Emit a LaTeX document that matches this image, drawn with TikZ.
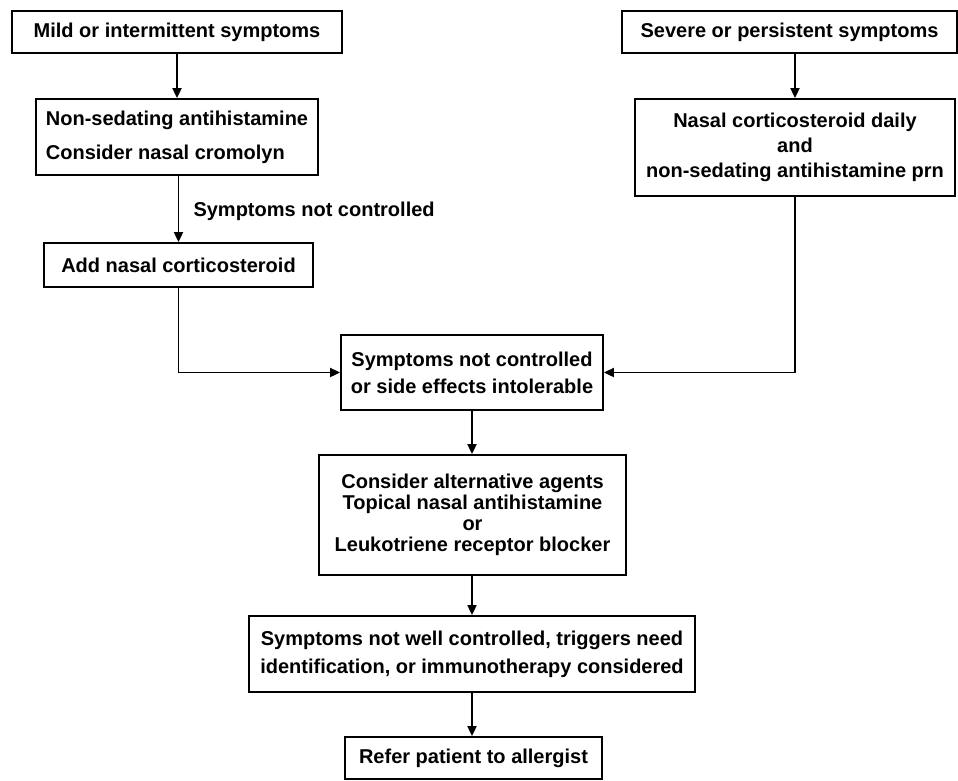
\documentclass[tikz,border=0pt]{standalone}
\usepackage{fontspec}
\setmainfont{Liberation Sans}
\usetikzlibrary{arrows.meta}
\begin{document}
\begin{tikzpicture}[x=1pt,y=-1pt,
  box/.style={draw,line width=1.8pt,inner sep=0pt,align=center,
    font=\bfseries\fontsize{20}{25}\selectfont},
  flow/.style={line width=1.8pt,-{Triangle[length=10pt,width=9pt]}}]
\useasboundingbox (0,0) rectangle (958,780);

% left branch
\node[box,minimum width=330pt,minimum height=42pt] (mild) at (177,32) {Mild or intermittent symptoms};
\node[box,align=left,minimum width=282pt,minimum height=76pt,
  font=\bfseries\fontsize{20}{34}\selectfont] (nonsed) at (177,137)
  {Non-sedating antihistamine\\Consider nasal cromolyn};
\node[box,minimum width=269pt,minimum height=44pt] (addnasal) at (178.5,265) {Add nasal corticosteroid};
\node[anchor=west,font=\bfseries\fontsize{20}{22}\selectfont] (notctl) at (190,211) {Symptoms not controlled};

% right branch
\node[box,minimum width=335pt,minimum height=42pt] (severe) at (789.5,32) {Severe or persistent symptoms};
\node[box,minimum width=320pt,minimum height=97pt] (nasal) at (795,147.5)
  {Nasal corticosteroid daily\\and\\non-sedating antihistamine prn};

% central column
\node[box,minimum width=262pt,minimum height=75pt,
  font=\bfseries\fontsize{20}{27}\selectfont] (sideeff) at (472,372.5)
  {Symptoms not controlled\\or side effects intolerable};
\node[box,minimum width=307pt,minimum height=120pt,
  font=\bfseries\fontsize{20}{21}\selectfont] (altern) at (472.5,515)
  {Consider alternative agents\\Topical nasal antihistamine\\or\\Leukotriene receptor blocker};
\node[box,minimum width=446pt,minimum height=76pt,
  font=\bfseries\fontsize{20}{28}\selectfont] (refer1) at (472,654)
  {Symptoms not well controlled, triggers need\\identification, or immunotherapy considered};
\node[box,minimum width=257pt,minimum height=42pt] (allergist) at (473.5,758) {Refer patient to allergist};

% connectors
\draw[flow] (mild.south) -- (nonsed.north);
\draw[flow] (nonsed.south -| addnasal.north) -- (addnasal.north);
\draw[flow] (addnasal.south) |- (sideeff.west);
\draw[flow] (nasal.north |- severe.south) -- (nasal.north);
\draw[flow] (nasal.south) |- (sideeff.east);
\draw[flow] (sideeff.south) -- (sideeff.south |- altern.north);
\draw[flow] (sideeff.south |- altern.south) -- (sideeff.south |- refer1.north);
\draw[flow] (sideeff.south |- refer1.south) -- (sideeff.south |- allergist.north);
\end{tikzpicture}
\end{document}
